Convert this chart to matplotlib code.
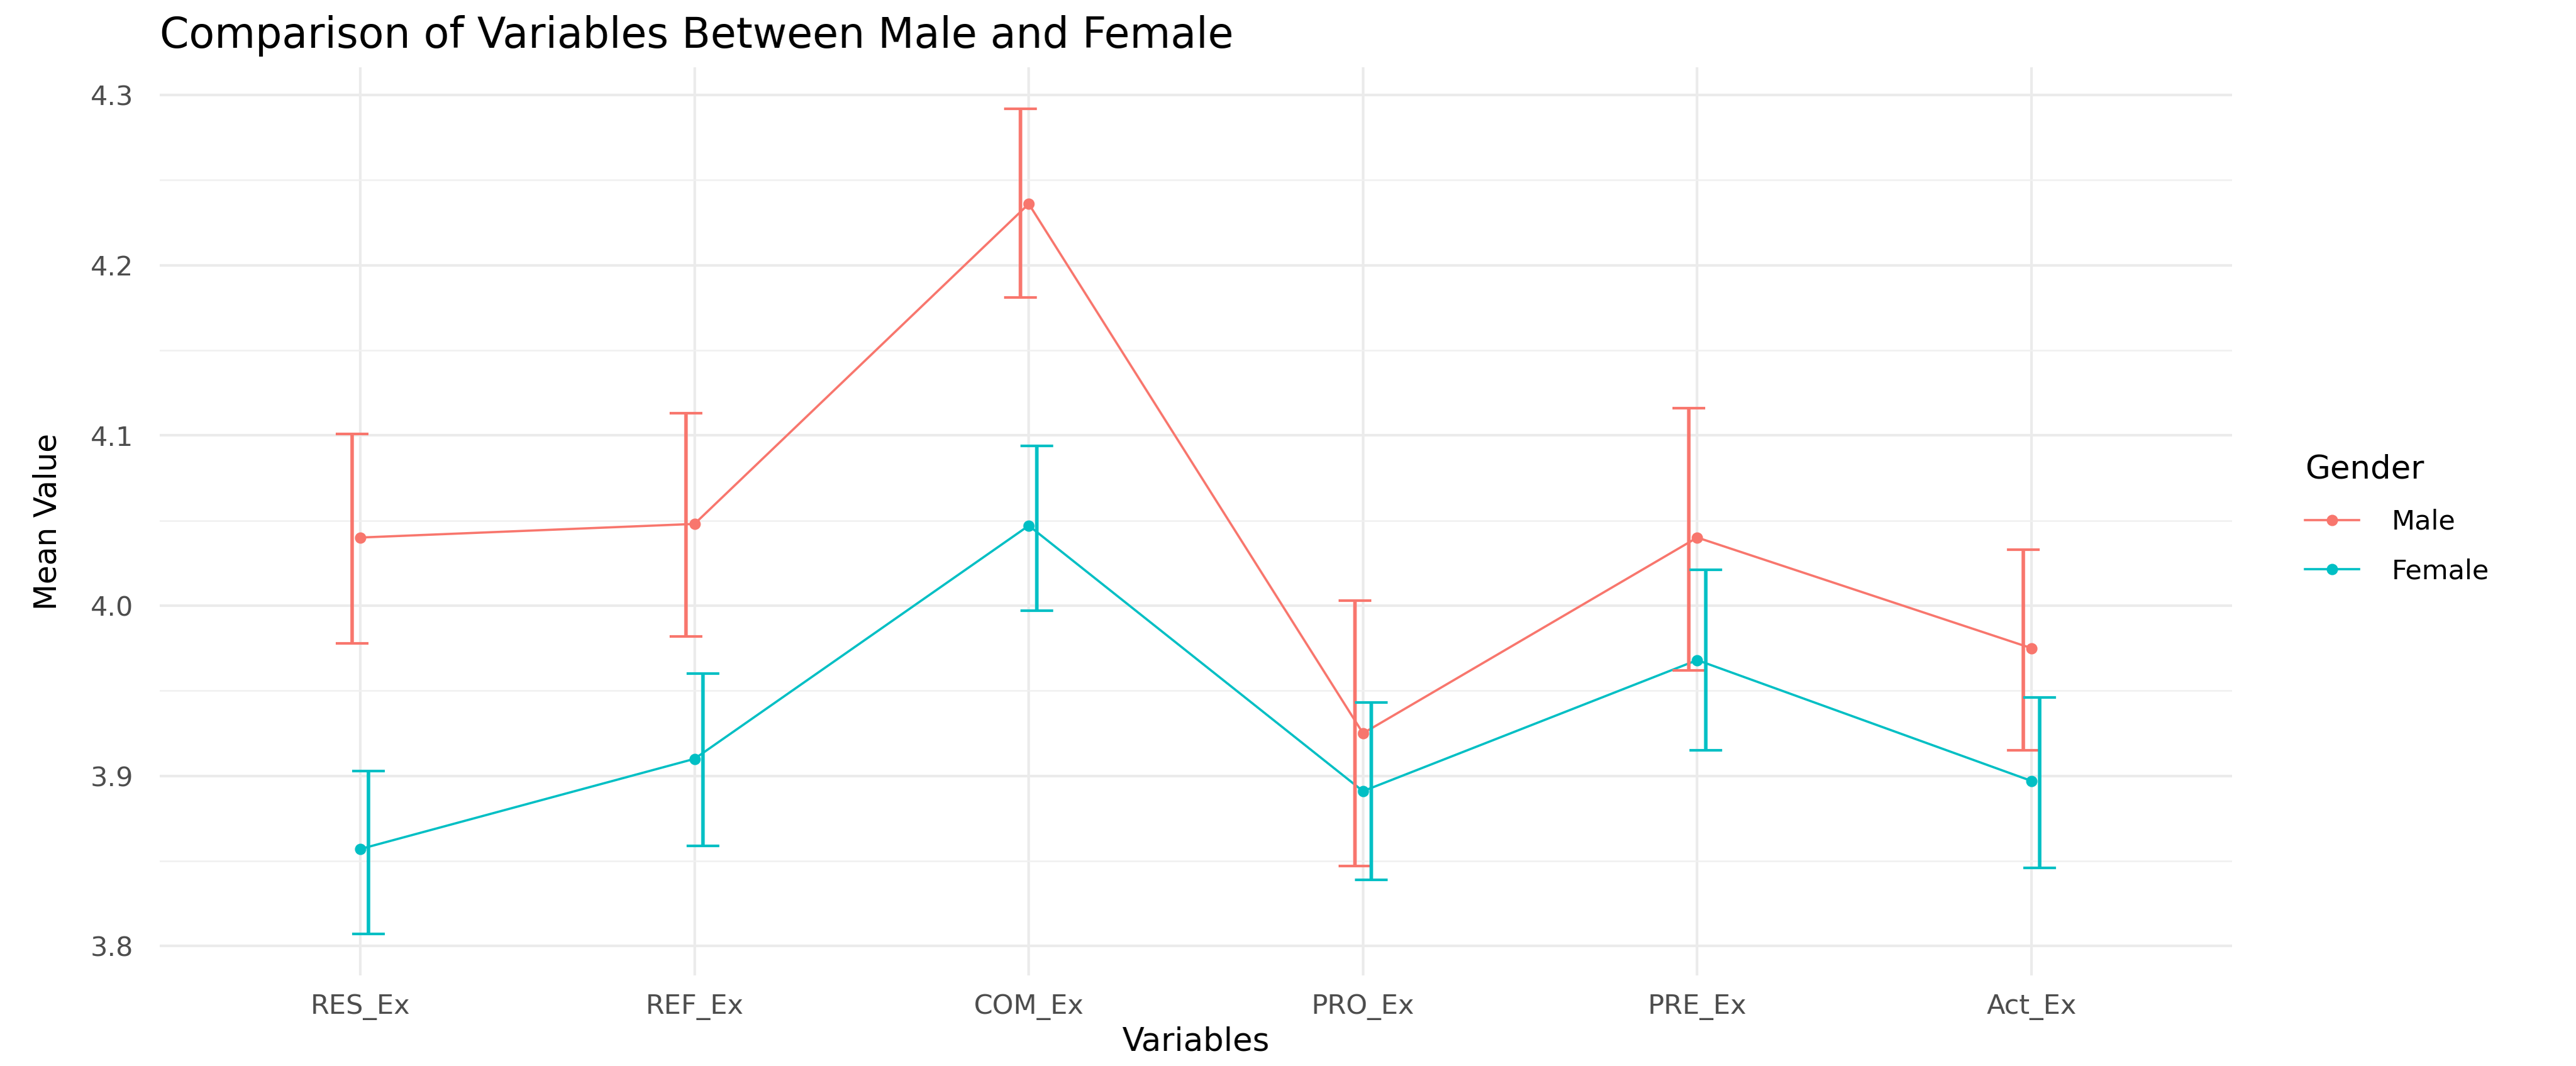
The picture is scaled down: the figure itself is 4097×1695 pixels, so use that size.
import matplotlib.pyplot as plt
import numpy as np

# values
variables = ["RES_Ex", "REF_Ex", "COM_Ex", "PRO_Ex", "PRE_Ex", "Act_Ex"]

male_mean = [4.040, 4.048, 4.236, 3.925, 4.040, 3.975]
male_lower = [3.978, 3.982, 4.181, 3.847, 3.962, 3.915]
male_upper = [4.101, 4.113, 4.292, 4.003, 4.116, 4.033]

female_mean = [3.857, 3.910, 4.047, 3.891, 3.968, 3.897]
female_lower = [3.807, 3.859, 3.997, 3.839, 3.915, 3.846]
female_upper = [3.903, 3.960, 4.094, 3.943, 4.021, 3.946]

male_col = "#F8766D"
female_col = "#00BFC4"

plt.rcParams['font.family'] = ['DejaVu Sans']

W, H = 4097, 1695
fig = plt.figure(figsize=(W / 100, H / 100), dpi=100)
ax = fig.add_axes([254 / W, 1 - 1551 / H, (3550 - 254) / W, (1551 - 107) / H])

x = np.arange(len(variables))

# connecting lines and points
l1, = ax.plot(x, male_mean, color=male_col, lw=2.6, marker="o", ms=12, zorder=3, label="Male")
l2, = ax.plot(x, female_mean, color=female_col, lw=2.6, marker="o", ms=12, zorder=3, label="Female")

# error bars, dodged a little
m = np.array(male_mean)
f = np.array(female_mean)
ax.errorbar(x - 0.025, m, yerr=[m - np.array(male_lower), np.array(male_upper) - m],
            fmt="none", ecolor=male_col, elinewidth=4.0, capsize=19, capthick=3.0, zorder=4)
ax.errorbar(x + 0.025, f, yerr=[f - np.array(female_lower), np.array(female_upper) - f],
            fmt="none", ecolor=female_col, elinewidth=4.0, capsize=19, capthick=3.0, zorder=5)

# ggplot style expansion
lo = min(male_lower + female_lower)
hi = max(male_upper + female_upper)
pad = 0.05 * (hi - lo)
ax.set_ylim(lo - pad, hi + pad)
ax.set_xlim(-0.6, len(variables) - 0.4)

ax.set_xticks(x)
ax.set_xticklabels(variables)
ax.set_yticks([3.8, 3.9, 4.0, 4.1, 4.2, 4.3])
ax.set_yticks([3.85, 3.95, 4.05, 4.15, 4.25], minor=True)

# theme_minimal look
for s in ax.spines.values():
    s.set_visible(False)
ax.grid(True, which="major", color="#EBEBEB", lw=3.0, zorder=0)
ax.grid(True, which="minor", axis="y", color="#F0F0F0", lw=1.8, zorder=0)
ax.set_axisbelow(True)
ax.tick_params(axis="both", which="both", length=0)
ax.tick_params(axis="x", labelsize=31, labelcolor="#4D4D4D", pad=21)
ax.tick_params(axis="y", labelsize=31, labelcolor="#4D4D4D", pad=30)

ax.set_xlabel("Variables", fontsize=37)
ax.xaxis.set_label_coords(0.5, -0.056)
ax.set_ylabel("Mean Value", fontsize=35)
ax.yaxis.set_label_coords(-0.047, 0.5)

ax.set_title("Comparison of Variables Between Male and Female", loc="left", fontsize=48, pad=22)

leg = fig.legend(handles=[l1, l2], title="Gender", loc="upper left",
                 bbox_to_anchor=(3666 / W, 1 - 722 / H), frameon=False,
                 fontsize=31, title_fontsize=37, borderpad=0, borderaxespad=0,
                 handlelength=2.0, handletextpad=1.2, labelspacing=0.85, alignment="left")

fig.savefig("out.png", dpi=100)
